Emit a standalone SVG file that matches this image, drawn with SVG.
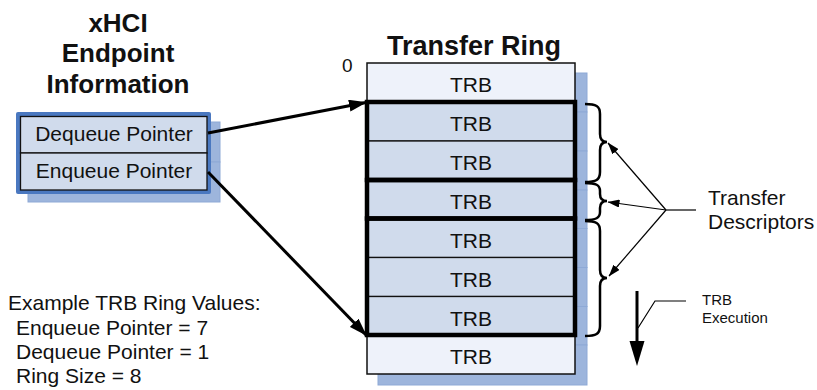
<svg xmlns="http://www.w3.org/2000/svg" width="817" height="390" viewBox="0 0 817 390">
<defs>
<style>
text{font-family:"Liberation Sans",Arial,sans-serif;fill:#111;}
.title{font-size:26px;font-weight:bold;text-anchor:middle;}
.body{font-size:21px;}
.c{text-anchor:middle;}
.small{font-size:15px;}
.shadow{fill:#9db5dc;stroke:#8ea9d6;stroke-width:1;}
.cell{fill:#d0dbec;stroke:#111;stroke-width:1.3;}
.light{fill:#eef2fa;stroke:#111;stroke-width:1.5;}
.thick{fill:none;stroke:#000;stroke-width:4.5;}
.brace{fill:none;stroke:#000;stroke-width:2.5;}
.big{stroke:#000;stroke-width:3;fill:none;}
.thin{stroke:#000;stroke-width:1.2;fill:none;}
</style>
<marker id="ahBig" viewBox="0 0 18 12" refX="17" refY="6" markerWidth="18" markerHeight="12" markerUnits="userSpaceOnUse" orient="auto">
<path d="M0,0 L18,6 L0,12 z" fill="#000"/>
</marker>
<marker id="ahSmall" viewBox="0 0 12 8" refX="11.5" refY="4" markerWidth="12" markerHeight="8" markerUnits="userSpaceOnUse" orient="auto">
<path d="M0,0 L12,4 L0,8 z" fill="#000"/>
</marker>
</defs>
<rect width="817" height="390" fill="#fff"/>

<g id="endpoint-info">
<text class="title" x="118" y="32">xHCI</text>
<text class="title" x="118" y="62">Endpoint</text>
<text class="title" x="118" y="93">Information</text>
<rect class="shadow" x="28" y="122" width="192" height="40"/>
<rect class="shadow" x="28" y="162" width="192" height="40"/>
<rect x="16" y="112" width="195" height="82" rx="2" fill="#4a78c0"/>
<rect class="cell" x="20.5" y="116.5" width="186.5" height="36.5"/>
<rect class="cell" x="20.5" y="153" width="186.5" height="37"/>
<text class="body c" x="114" y="141">Dequeue Pointer</text>
<text class="body c" x="114" y="178">Enqueue Pointer</text>
</g>

<g id="transfer-ring">
<text class="title" x="474" y="55" style="font-size:27px">Transfer Ring</text>
<text class="body" x="342" y="72" style="font-size:19px">0</text>
<rect class="shadow" x="378" y="73" width="209" height="39"/>
<rect class="shadow" x="378" y="112" width="209" height="39"/>
<rect class="shadow" x="378" y="151" width="209" height="39"/>
<rect class="shadow" x="378" y="190" width="209" height="38.5"/>
<rect class="shadow" x="378" y="228.5" width="209" height="39"/>
<rect class="shadow" x="378" y="267.5" width="209" height="39"/>
<rect class="shadow" x="378" y="306.5" width="209" height="38.5"/>
<rect class="shadow" x="378" y="345" width="209" height="40"/>
<rect class="light" x="367" y="63" width="208" height="39"/>
<rect class="cell" x="367" y="102" width="208" height="39"/>
<rect class="cell" x="367" y="141" width="208" height="39"/>
<rect class="cell" x="367" y="180" width="208" height="38.5"/>
<rect class="cell" x="367" y="218.5" width="208" height="39"/>
<rect class="cell" x="367" y="257.5" width="208" height="39"/>
<rect class="cell" x="367" y="296.5" width="208" height="38.5"/>
<rect class="light" x="367" y="335" width="208" height="39"/>
<rect class="thick" x="367" y="102" width="208" height="78"/>
<rect class="thick" x="367" y="180" width="208" height="38.5"/>
<rect class="thick" x="367" y="218.5" width="208" height="116.5"/>
<text class="body c" x="471" y="92">TRB</text>
<text class="body c" x="471" y="131">TRB</text>
<text class="body c" x="471" y="170">TRB</text>
<text class="body c" x="471" y="209">TRB</text>
<text class="body c" x="471" y="248">TRB</text>
<text class="body c" x="471" y="287">TRB</text>
<text class="body c" x="471" y="326">TRB</text>
<text class="body c" x="471" y="364">TRB</text>
</g>

<g id="braces">
<path class="brace" d="M585,104 C596,104 600,106 600,114 L600,134 C600,140 603,142 607,142 C603,142 600,144 600,150 L600,172 C600,180 596,182 585,182"/>
<path class="brace" d="M585,183 C596,183 600,185 600,191 L600,194 C600,199 603,201 607,201 C603,201 600,203 600,208 L600,212 C600,218 596,220 585,220"/>
<path class="brace" d="M585,221 C596,221 600,223 600,231 L600,270 C600,276 603,278 607,278 C603,278 600,280 600,286 L600,326 C600,334 596,336 585,336"/>
</g>

<g id="transfer-descriptors">
<text class="body" x="708" y="205">Transfer</text>
<text class="body" x="708" y="229">Descriptors</text>
</g>

<g id="trb-execution">
<text class="small" x="702" y="305">TRB</text>
<text class="small" x="702" y="323">Execution</text>
</g>

<g id="example-values">
<text class="body" x="8" y="310">Example TRB Ring Values:</text>
<text class="body" x="16" y="335">Enqueue Pointer = 7</text>
<text class="body" x="16" y="359">Dequeue Pointer = 1</text>
<text class="body" x="16" y="383">Ring Size = 8</text>
</g>

<g id="connectors">
<line class="big" x1="208" y1="133" x2="366" y2="102.5" marker-end="url(#ahBig)"/>
<line class="big" x1="208" y1="172" x2="366" y2="335" marker-end="url(#ahBig)"/>
<line class="thin" x1="696" y1="210" x2="666" y2="210"/>
<line class="thin" x1="666" y1="210" x2="608" y2="143" marker-end="url(#ahSmall)"/>
<line class="thin" x1="666" y1="210" x2="608" y2="202" marker-end="url(#ahSmall)"/>
<line class="thin" x1="666" y1="210" x2="609" y2="276" marker-end="url(#ahSmall)"/>
<line x1="637" y1="291" x2="637" y2="344" stroke="#000" stroke-width="3"/>
<polygon points="629.5,341 644.5,341 637,366" fill="#000"/>
<polyline class="thin" points="686,301 655,301 638,328"/>
</g>
</svg>
